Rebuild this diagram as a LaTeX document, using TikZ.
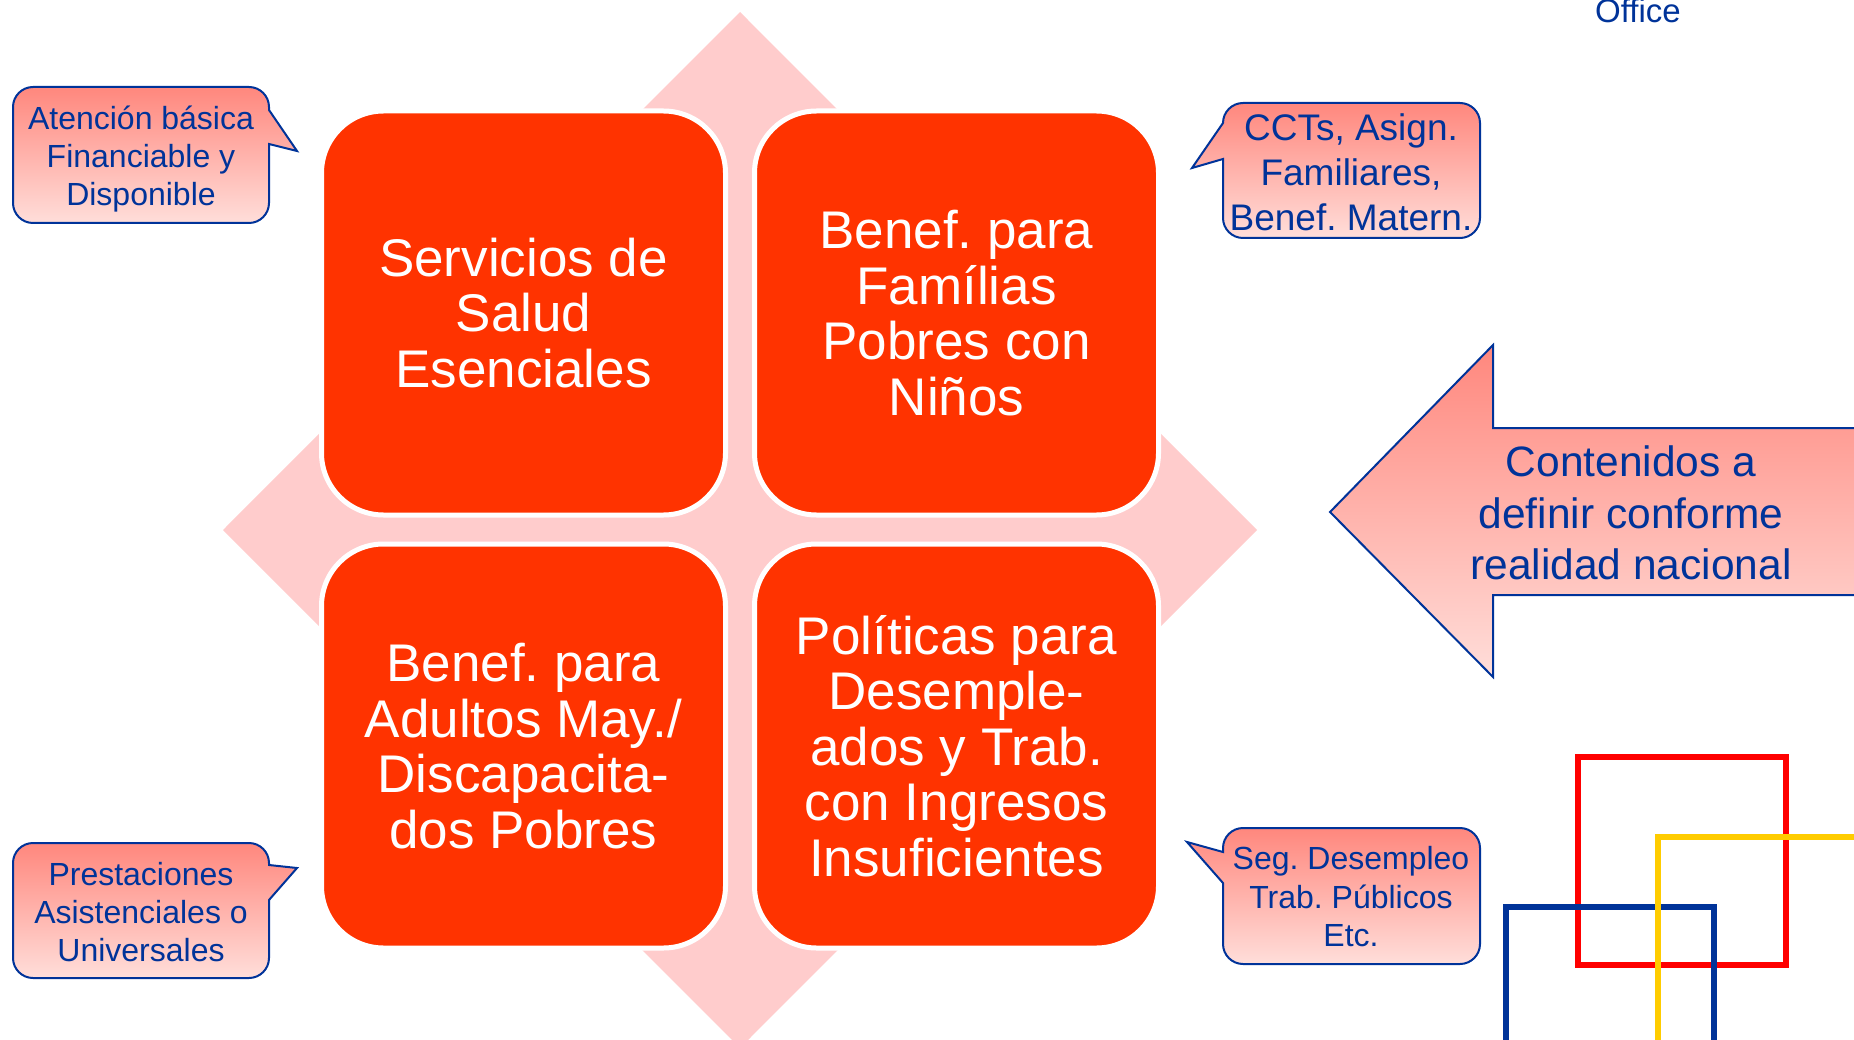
\documentclass[tikz,border=0pt]{standalone}
\usepackage{fontspec}
\setmainfont{Liberation Sans}
\frenchspacing
\definecolor{sqred}{RGB}{255,51,0}
\definecolor{diam}{RGB}{255,204,204}
\definecolor{cblue}{RGB}{0,51,153}
\definecolor{ctop}{RGB}{255,135,125}
\definecolor{cbot}{RGB}{255,222,218}
\definecolor{lyellow}{RGB}{255,204,0}
\begin{document}
\begin{tikzpicture}[x=1pt,y=-1pt,
  sq/.style={draw=white, line width=5pt, fill=sqred, rounded corners=62pt,
    minimum width=404pt, minimum height=404pt, inner sep=0pt, text=white,
    align=center, font=\frenchspacing\fontsize{53}{55.5}\selectfont},
  bubble/.style={draw=cblue, line width=2pt, top color=ctop, bottom color=cbot},
  btext/.style={text=cblue, align=center, inner sep=0pt},
  deco/.style={line width=6pt}
]
\useasboundingbox (0,0) rectangle (1854,1040);

% background diamond
\fill[diam] (740,12) -- (1257,530) -- (740,1048) -- (223,530) -- cycle;

% four squares
\node[sq] (s1) at (523.5,313) {Servicios de\\Salud\\Esenciales};
\node[sq] (s2) at (956.5,313) {Benef. para\\Famílias\\Pobres con\\Niños};
\node[sq] (s3) at (523.5,746) {Benef. para\\Adultos May./\\Discapacita-\\dos Pobres};
\node[sq] (s4) at (956.5,746) {Políticas para\\Desemple-\\ados y Trab.\\con Ingresos\\Insuficientes};

% callout 1 (top left)
\path[bubble] (33,87) -- (249,87) .. controls (260,87) and (269,96) .. (269,107)
  -- (269,110) -- (297,151) -- (269,144)
  -- (269,203) .. controls (269,214) and (260,223) .. (249,223)
  -- (33,223) .. controls (22,223) and (13,214) .. (13,203)
  -- (13,107) .. controls (13,96) and (22,87) .. (33,87) -- cycle;
\node[btext, font=\frenchspacing\fontsize{32}{38}\selectfont] (c1) at (141,159)
  {Atención básica\\Financiable y\\Disponible};

% callout 3 (bottom left)
\path[bubble] (33,843) -- (249,843) .. controls (260,843) and (269,852) .. (269,863)
  -- (269,865) -- (297,868) -- (269,900)
  -- (269,958) .. controls (269,969) and (260,978) .. (249,978)
  -- (33,978) .. controls (22,978) and (13,969) .. (13,958)
  -- (13,863) .. controls (13,852) and (22,843) .. (33,843) -- cycle;
\node[btext, font=\frenchspacing\fontsize{32}{38.4}\selectfont] (c3) at (141,912)
  {Prestaciones\\Asistenciales o\\Universales};

% callout 2 (top right)
\path[bubble] (1243,103) -- (1460,103) .. controls (1471,103) and (1480,112) .. (1480,123)
  -- (1480,218) .. controls (1480,229) and (1471,238) .. (1460,238)
  -- (1243,238) .. controls (1232,238) and (1223,229) .. (1223,218)
  -- (1223,159) -- (1192,168) -- (1223,123)
  .. controls (1223,112) and (1232,103) .. (1243,103) -- cycle;
\node[btext, font=\frenchspacing\fontsize{37}{45}\selectfont] (c2) at (1351,172)
  {CCTs, Asign.\\Familiares,\\Benef. Matern.};

% callout 4 (bottom right)
\path[bubble] (1243,828) -- (1460,828) .. controls (1471,828) and (1480,837) .. (1480,848)
  -- (1480,944) .. controls (1480,955) and (1471,964) .. (1460,964)
  -- (1243,964) .. controls (1232,964) and (1223,955) .. (1223,944)
  -- (1223,883) -- (1187,842) -- (1223,852) -- (1223,848)
  .. controls (1223,837) and (1232,828) .. (1243,828) -- cycle;
\node[btext, font=\frenchspacing\fontsize{32}{38.5}\selectfont] (c4) at (1351,897)
  {Seg. Desempleo\\Trab. Públicos\\Etc.};

% big arrow
\path[bubble] (1330,512) -- (1493,345) -- (1493,428) -- (1870,428) -- (1870,595)
  -- (1493,595) -- (1493,677) -- cycle;
\node[btext, font=\frenchspacing\fontsize{42.5}{51.4}\selectfont] (arr) at (1631,513)
  {Contenidos a\\definir conforme\\realidad nacional};

% Office label
\node[text=cblue, font=\fontsize{33}{40}\selectfont, anchor=base, inner sep=0pt] (office) at (1638,23) {Office};

% decorative squares
\draw[deco, red] (1578,757) rectangle (1786,965);
\draw[deco, cblue] (1506,1050) -- (1506,907) -- (1714,907) -- (1714,1050);
\draw[deco, lyellow] (1658,1050) -- (1658,837) -- (1870,837);
\end{tikzpicture}
\end{document}
